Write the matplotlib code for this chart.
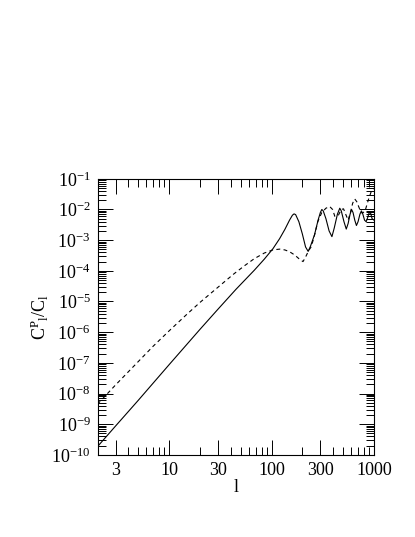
import numpy as np
import matplotlib
matplotlib.use("Agg")
import matplotlib.pyplot as plt
from matplotlib.ticker import FixedLocator, FixedFormatter, LogLocator, NullFormatter

plt.rcParams['font.family'] = ['Liberation Serif', 'DejaVu Serif']
plt.rcParams['mathtext.fontset'] = 'custom'
plt.rcParams['mathtext.rm'] = 'Liberation Serif'
plt.rcParams['mathtext.it'] = 'Liberation Serif'

# solid curve
l_solid = [2, 3, 5, 10, 20, 30, 45, 68, 85, 103, 120, 135, 150, 160, 166, 172, 185,
           200, 215, 228, 240, 263, 285, 300, 310, 320, 340, 365, 389, 410, 440, 464,
           480, 510, 537, 560, 585, 605, 625, 650, 675, 700, 730, 755, 780, 810, 840,
           870, 900, 930, 960, 1000]
c_solid = [1.86e-10, 8.7e-10, 6.0e-9, 8.7e-8, 1.23e-6, 5.6e-6, 2.5e-5, 1.05e-4, 2.4e-4,
           5.2e-4, 1.12e-3, 2.24e-3, 4.5e-3, 6.5e-3, 7.2e-3, 6.8e-3, 4e-3,
           1.6e-3, 6e-4, 4.3e-4, 6.3e-4, 1.5e-3, 4.5e-3, 8e-3, 1e-2, 9e-3, 5e-3, 2e-3,
           1.3e-3, 2.5e-3, 7e-3, 1.1e-2, 9e-3, 4e-3, 2.3e-3, 3.5e-3, 7e-3, 1e-2, 8e-3,
           4.5e-3, 3e-3, 4e-3, 7e-3, 9e-3, 7e-3, 4.5e-3, 4e-3, 5.5e-3, 8e-3, 7.5e-3,
           5e-3, 4.5e-3]

# dashed curve
l_dash = [2, 3, 5, 7, 10, 15, 20, 28, 35, 43, 55, 68, 85, 103, 120, 135, 150, 168,
          185, 203, 215, 230, 245, 265, 283, 310, 340, 370, 395, 415, 450, 480, 505,
          530, 560, 590, 620, 650, 680, 720, 770, 820, 880, 940, 1000]
c_dash = [4.5e-9, 1.9e-8, 1.1e-7, 3.5e-7, 1.1e-6, 3.9e-6, 9.3e-6, 2.4e-5, 4.5e-5,
          8e-5, 1.5e-4, 2.5e-4, 3.8e-4, 4.8e-4, 5.1e-4, 4.8e-4, 4.2e-4, 3.3e-4,
          2.5e-4, 2e-4, 2.8e-4, 4.5e-4, 6.2e-4, 1.6e-3, 4e-3, 8e-3, 1.1e-2, 1.25e-2,
          1e-2, 6e-3, 6.5e-3, 1e-2, 1.05e-2, 7e-3, 4.5e-3, 8e-3, 1.6e-2, 2.2e-2,
          1.8e-2, 1.1e-2, 7.5e-3, 9e-3, 2e-2, 3.8e-2, 5e-2]

x_major = [3, 10, 30, 100, 300, 1000]
x_labels = ['3', '10', '30', '100', '300', '1000']
x_minor = [2, 4, 5, 6, 7, 8, 9, 20, 40, 50, 60, 70, 80, 90, 200, 400, 500, 600, 700, 800, 900]

fig = plt.figure(figsize=(4.15, 5.37), dpi=100)
ax = fig.add_axes([0.235, 0.153, 0.666, 0.514])

ax.plot(l_solid, c_solid, color='black', lw=0.8)
line, = ax.plot(l_dash, c_dash, color='black', lw=0.8)
line.set_dashes([3.5, 3])

ax.set_xscale('log')
ax.set_yscale('log')
ax.set_xlim(2, 1000)
ax.set_ylim(1e-10, 1e-1)

ax.xaxis.set_major_locator(FixedLocator(x_major))
ax.xaxis.set_major_formatter(FixedFormatter(x_labels))
ax.xaxis.set_minor_locator(FixedLocator(x_minor))
ax.xaxis.set_minor_formatter(NullFormatter())
ax.yaxis.set_major_locator(LogLocator(base=10, numticks=20))
ax.yaxis.set_minor_locator(LogLocator(base=10, subs=np.arange(2, 10), numticks=20))
ax.yaxis.set_minor_formatter(NullFormatter())

ax.tick_params(which='both', direction='in', top=True, right=True, labelsize=13, width=0.7)
ax.tick_params(which='major', length=11, pad=5)
ax.tick_params(which='minor', length=5.5)
for s in ax.spines.values():
    s.set_linewidth(0.8)

ax.set_xlabel('l', fontsize=13, labelpad=0)
ax.set_ylabel(r'$\mathrm{C^P{}_l/C_l}$', fontsize=13, labelpad=0)

fig.savefig('out.png', dpi=100)
